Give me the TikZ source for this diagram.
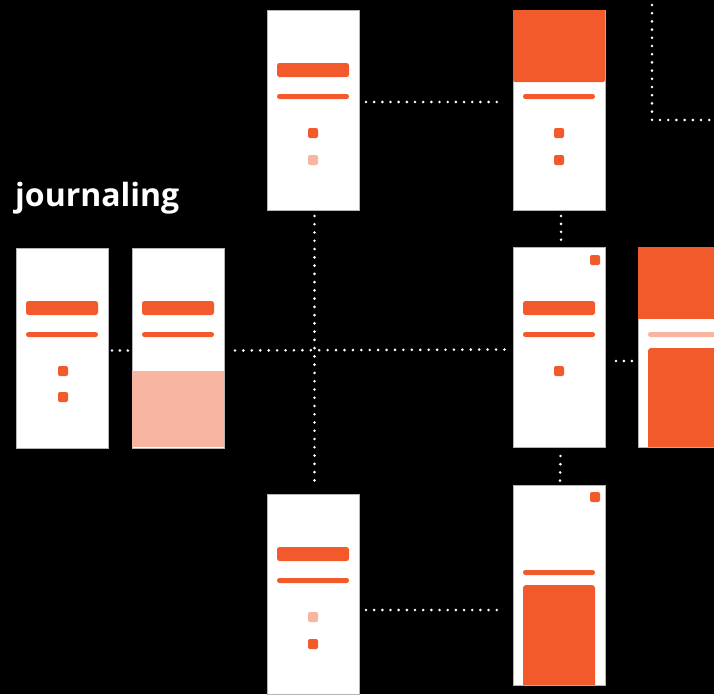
\documentclass[tikz,border=0pt]{standalone}
\usepackage{fontspec}
\setmainfont{Open Sans}
\usetikzlibrary{calc}
\definecolor{accent}{HTML}{F25A2C}
\definecolor{accentlight}{HTML}{F8B6A2}
\definecolor{cardedge}{HTML}{B4B4B4}
\tikzset{
  card/.style={draw=cardedge, line width=0.9pt, fill=white, minimum width=92pt,
    minimum height=200pt, inner sep=0pt, outer sep=0pt, anchor=north west},
  conn/.style={white, line width=2.9pt, line cap=round, dash pattern=on 0pt off #1},
  conn/.default=8.25pt,
  bar/.style={fill=accent, rounded corners=2.5pt},
  thinbar/.style={fill=accent, rounded corners=2.4pt},
  dot/.style={fill=accent, rounded corners=2pt},
  dotlight/.style={fill=accentlight, rounded corners=2pt},
}
\begin{document}
\begin{tikzpicture}[x=1pt, y=-1pt]
  % canvas
  \fill[black] (0,0) rectangle (714,694);
  \useasboundingbox (0,0) rectangle (714,694);
  \clip (0,0) rectangle (714,694);

  % heading
  \node[anchor=base west, inner sep=0pt, text=white, font=\fontsize{32}{38}\selectfont\bfseries]
    (title) at (15,206) {journaling};

  % screens
  \node[card] (L1) at (16,248) {};
  \node[card] (L2) at (132,248) {};
  \node[card] (A)  at (267,10) {};
  \node[card] (B)  at (513,10) {};
  \node[card] (D)  at (513,247) {};
  \node[card] (E)  at (638,247) {};
  \node[card] (C)  at (267,494) {};
  \node[card] (F)  at (513,485) {};

  % screen L1: list
  \fill[bar] (26,301) rectangle (98,315);
  \fill[thinbar] (26,332) rectangle (98,337);
  \fill[dot] (58,366) rectangle (68,376);
  \fill[dot] (58,392) rectangle (68,402);

  % screen L2: list with panel
  \fill[bar] (142,301) rectangle (214,315);
  \fill[thinbar] (142,332) rectangle (214,337);
  \fill[accentlight] (132,371) rectangle (224,447);

  % screen A
  \fill[bar] (277,63) rectangle (349,77);
  \fill[thinbar] (277,94) rectangle (349,99);
  \fill[dot] (308,128) rectangle (318,138);
  \fill[dotlight] (308,155) rectangle (318,165);

  % screen B: header block
  \fill[accent] (513,10) {[rounded corners=2pt] -- (513,82) -- (605,82)} -- (605,10) -- cycle;
  \fill[thinbar] (523,94) rectangle (595,99);
  \fill[dot] (554,128) rectangle (564,138);
  \fill[dot] (554,155) rectangle (564,165);

  % screen D
  \fill[dot] (590,255) rectangle (600,265);
  \fill[bar] (523,301) rectangle (595,315);
  \fill[thinbar] (523,332) rectangle (595,337);
  \fill[dot] (554,366) rectangle (564,376);

  % screen E (runs off the right edge)
  \fill[accent] (638,247) rectangle (730,319);
  \fill[accentlight, rounded corners=2.4pt] (648,332) rectangle (720,337);
  \fill[accent] (648,447) {[rounded corners=3pt] -- (648,348) -- (720,348)} -- (720,447) -- cycle;

  % screen C
  \fill[bar] (277,547) rectangle (349,561);
  \fill[thinbar] (277,578) rectangle (349,583);
  \fill[dotlight] (308,612) rectangle (318,622);
  \fill[dot] (308,639) rectangle (318,649);

  % screen F
  \fill[dot] (590,492) rectangle (600,502);
  \fill[thinbar] (523,570) rectangle (595,575);
  \fill[accent] (523,685) {[rounded corners=3pt] -- (523,585) -- (595,585)} -- (595,685) -- cycle;

  % dotted links between screens (spacing fitted to each run)
  \draw[conn=8.17pt] ($(A.east)+(7,-8)$) -- ($(B.west)+(-16,-8)$);
  \draw[conn=7.9pt]  ($(L1.east)+(4,2.5)$) -- ($(L2.west)+(-4,2.5)$);
  \draw[conn=8.42pt] ($(L2.east)+(11,2.5)$) -- ($(D.west)+(-8,2.5)$);
  \draw[conn=8.26pt] ($(A.south)+(1.5,6)$) -- ($(C.north)+(1.5,-13)$);
  \draw[conn=7.9pt]  ($(B.south)+(2,6)$) -- ($(D.north)+(2,-7)$);
  \draw[conn=8.2pt]  ($(D.south)+(1.5,9)$) -- ($(F.north)+(1,-4)$);
  \draw[conn=7.9pt]  ($(D.east)+(11,14)$) -- ($(E.west)+(-6,14)$);
  \draw[conn=8.17pt] ($(C.east)+(7,16)$) -- ($(F.west)+(-16,25)$);

  % link leaving the top right corner
  \coordinate (up) at (652,5);
  \coordinate (bend) at (652,120);
  \coordinate (out) at (716,120);
  \draw[conn=8.2pt] (up) -- (bend) -- (out);
\end{tikzpicture}
\end{document}
